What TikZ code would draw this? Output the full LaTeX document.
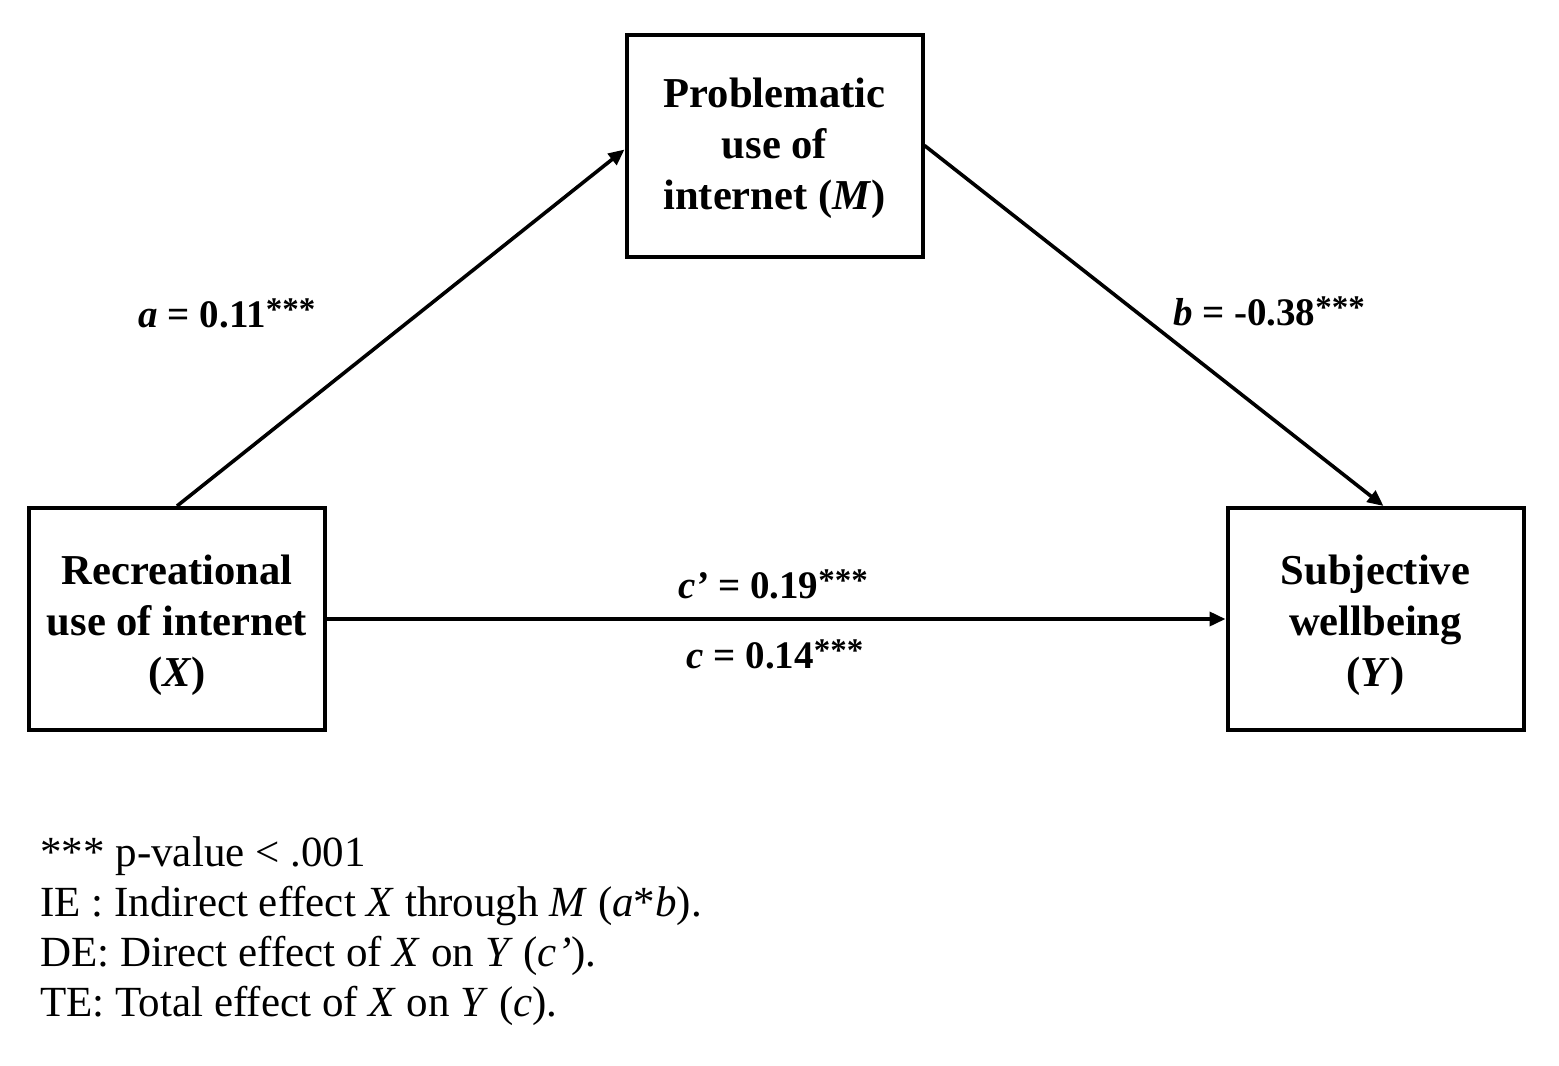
\documentclass[tikz,border=0pt]{standalone}
\usepackage{fontspec}
\setmainfont{Liberation Serif}
\usetikzlibrary{arrows.meta}
\newcommand{\stars}{\raisebox{3.5pt}{\fontsize{16.5}{16.5}\selectfont ***}}
\begin{document}
\begin{tikzpicture}[x=0.5pt,y=-0.5pt,
  varbox/.style={draw, line width=2pt, minimum width=148pt, minimum height=111pt, inner sep=0pt},
  boxtext/.style={align=center, inner sep=0pt, font=\fontsize{21.3}{25.5}\selectfont\bfseries},
  path/.style={line width=1.8pt, -{Triangle[length=8pt,width=7pt]}},
  coef/.style={font=\fontsize{19.5}{24}\selectfont\bfseries, anchor=base, inner sep=0pt},
  note/.style={font=\fontsize{21.5}{25}\selectfont, anchor=base west, inner sep=0pt}]
\useasboundingbox (0,0) rectangle (1559,1066);
\node[varbox, label={[boxtext, yshift=-3pt]center:Recreational\\use of internet\\(\textit{X})}] (X) at (177,619) {};
\node[varbox, label={[boxtext, yshift=-1.5pt]center:Problematic\\use of\\internet (\textit{M})}] (M) at (774.5,145.5) {};
\node[varbox, label={[boxtext, yshift=-3pt]center:Subjective\\wellbeing\\(\textit{Y})}] (Y) at (1375.5,619) {};
\draw[path] (X.north) -- ([yshift=-2pt]M.west);
\draw[path] (M.east) -- ([xshift=4pt]Y.north);
\draw[path] (X.east) -- (Y.west);
\node[coef] (la) at (227,327) {\textit{a} = 0.11\stars};
\node[coef] (lb) at (1269,325) {\textit{b} = -0.38\stars};
\node[coef] (lcp) at (773,598) {\textit{c’} = 0.19\stars};
\node[coef] (lc) at (775,668) {\textit{c} = 0.14\stars};
\node[note] (n1) at (40,866) {*** p-value < .001};
\node[note] (n2) at (40,916) {IE : Indirect effect \textit{X} through \textit{M} (\textit{a}*\textit{b}).};
\node[note] (n3) at (40,966) {DE: Direct effect of \textit{X} on \textit{Y} (\textit{c’}).};
\node[note] (n4) at (40,1016) {TE: Total effect of \textit{X} on \textit{Y} (\textit{c}).};
\end{tikzpicture}
\end{document}
